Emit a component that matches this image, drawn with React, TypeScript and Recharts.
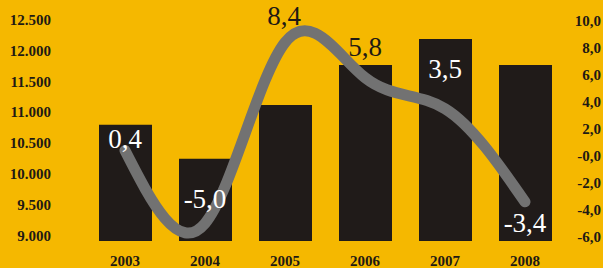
import React from "react";
import { ComposedChart, Bar, Line, XAxis, YAxis, LabelList } from "recharts";

const years = ["2003", "2004", "2005", "2006", "2007", "2008"];
const barValues = [10800, 10250, 11120, 11770, 12190, 11770];
const lineValues = [0.4, -5.0, 8.4, 5.8, 3.5, -3.4];
const leftTicks = [9000, 9500, 10000, 10500, 11000, 11500, 12000, 12500];
const rightTicks = [-6, -4, -2, 0, 2, 4, 6, 8, 10];

const data = years.map((y, i) => ({ year: y, bar: barValues[i], line: lineValues[i] }));

const BG = "#F5B800";
const BAR = "#201B19";
const LINE = "#727272";
const TEXT = "#1F1A14";
const FONT = "'Liberation Serif', 'Times New Roman', serif";

const fmtLeft = (v: number) => {
  const s = String(v);
  return s.length > 3 ? s.slice(0, s.length - 3) + "." + s.slice(-3) : s;
};
const fmtRight = (v: number) => (v === 0 ? "-0,0" : v.toFixed(1).replace(".", ","));
const fmtVal = (v: number) => v.toFixed(1).replace(".", ",");

// label placement relative to each point
const labelDy = [-3, -15, -18, -22, -31, 30];
const labelDx = [0, 0, -1, 0, 0, 0];
const labelColor = ["#FFFFFF", "#FFFFFF", TEXT, TEXT, "#FFFFFF", "#FFFFFF"];

const LeftTick = (props: any) => {
  const { x, y, payload } = props;
  return (
    <text x={x} y={y} dy={5} textAnchor="end" fill={TEXT} fontFamily={FONT} fontWeight="bold" fontSize={15}>
      {fmtLeft(payload.value)}
    </text>
  );
};
const RightTick = (props: any) => {
  const { x, y, payload } = props;
  return (
    <text x={x} y={y} dy={5} textAnchor="end" fill={TEXT} fontFamily={FONT} fontWeight="bold" fontSize={15}>
      {fmtRight(payload.value)}
    </text>
  );
};
const BottomTick = (props: any) => {
  const { x, y, payload } = props;
  return (
    <text x={x} y={y} dy={10} textAnchor="middle" fill={TEXT} fontFamily={FONT} fontWeight="bold" fontSize={15}>
      {payload.value}
    </text>
  );
};

const ValueLabel = (props: any) => {
  const { x, y, value, index } = props;
  return (
    <text
      x={x + labelDx[index]}
      y={y + labelDy[index]}
      textAnchor="middle"
      fill={labelColor[index]}
      fontFamily={FONT}
      fontSize={27}
    >
      {fmtVal(value)}
    </text>
  );
};

export default function App() {
  return (
    <div style={{ position: "absolute", left: 0, top: 0, width: 603, height: 268, background: BG }}>
      <ComposedChart width={603} height={268} data={data} margin={{ top: 0, right: 0, bottom: 0, left: 0 }}>
        <XAxis
          dataKey="year"
          height={27}
          axisLine={false}
          tickLine={false}
          tickMargin={9}
          tick={<BottomTick />}
          interval={0}
        />
        <YAxis
          yAxisId="left"
          orientation="left"
          width={85}
          domain={[8920, 12820]}
          ticks={leftTicks}
          axisLine={false}
          tickLine={false}
          tickMargin={28}
          tick={<LeftTick />}
          allowDataOverflow
        />
        <YAxis
          yAxisId="right"
          orientation="right"
          width={38}
          domain={[-6.3, 11.55]}
          ticks={rightTicks}
          axisLine={false}
          tickLine={false}
          tickMargin={30}
          tick={<RightTick />}
          allowDataOverflow
        />
        <Bar yAxisId="left" dataKey="bar" fill={BAR} barSize={53} isAnimationActive={false} />
        <Line
          yAxisId="right"
          dataKey="line"
          type="natural"
          stroke={LINE}
          strokeWidth={11}
          strokeLinecap="round"
          dot={false}
          activeDot={false}
          isAnimationActive={false}
        >
          <LabelList dataKey="line" content={<ValueLabel />} />
        </Line>
      </ComposedChart>
    </div>
  );
}
